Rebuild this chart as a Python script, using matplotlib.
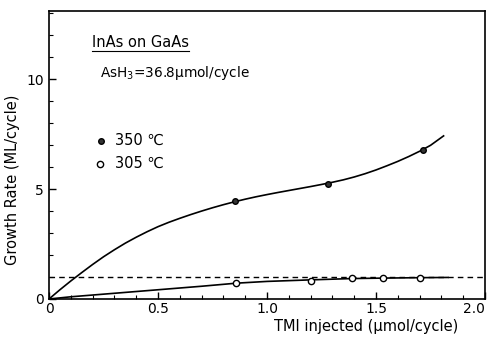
import matplotlib
matplotlib.use("Agg")
import matplotlib.pyplot as plt
from matplotlib.ticker import MultipleLocator, FixedLocator

# data points
x350 = [0.855, 1.28, 1.715]
y350 = [4.45, 5.23, 6.8]
x305 = [0.86, 1.20, 1.39, 1.53, 1.70]
y305 = [0.73, 0.82, 0.95, 0.95, 0.97]

# fitted curves
cx350 = [0, 0.05, 0.1, 0.15, 0.2, 0.25, 0.3, 0.35, 0.4, 0.45, 0.5, 0.55, 0.6, 0.65,
         0.7, 0.75, 0.8, 0.85, 0.9, 0.95, 1.0, 1.05, 1.1, 1.15, 1.2, 1.25, 1.3, 1.35,
         1.4, 1.45, 1.5, 1.55, 1.6, 1.65, 1.7, 1.75, 1.81]
cy350 = [0, 0.42, 0.82, 1.2, 1.57, 1.92, 2.24, 2.54, 2.81, 3.06, 3.29, 3.49, 3.67, 3.84,
         4.0, 4.15, 4.29, 4.42, 4.54, 4.65, 4.75, 4.845, 4.935, 5.025, 5.115, 5.21, 5.31, 5.42,
         5.55, 5.7, 5.87, 6.06, 6.26, 6.48, 6.72, 6.99, 7.42]
cx305 = [0, 0.1, 0.3, 0.5, 0.7, 0.86, 1.0, 1.2, 1.39, 1.53, 1.70, 1.83]
cy305 = [0, 0.1, 0.26, 0.42, 0.58, 0.72, 0.8, 0.87, 0.93, 0.95, 0.97, 0.98]

xticks = [0, 0.5, 1.0, 1.5, 2.0]
xticklabels = ["0", "0.5", "1.0", "1.5", "2.0"]
yticks = [0, 5, 10]

fig = plt.figure(figsize=(4.94, 3.38), dpi=100)
ax = fig.add_axes([0.0992, 0.1154, 0.8826, 0.852])
ax.set_xlim(0, 2.0)
ax.set_ylim(0, 13.1)

ax.plot(cx350, cy350, color="black", lw=1.2)
ax.plot(cx305, cy305, color="black", lw=1.2)
ax.axhline(1.0, color="black", lw=1.0, ls=(0, (4, 3)))
ax.plot(x350, y350, "o", ms=4, mfc="#333333", mec="black", mew=1)
ax.plot(x305, y305, "o", ms=4.5, mfc="white", mec="black", mew=1)

ax.xaxis.set_major_locator(FixedLocator(xticks))
ax.set_xticklabels(xticklabels)
ax.yaxis.set_major_locator(FixedLocator(yticks))
ax.xaxis.set_minor_locator(MultipleLocator(0.1))
ax.yaxis.set_minor_locator(MultipleLocator(1))
ax.tick_params(which="both", direction="in", labelsize=10)
ax.tick_params(which="major", length=5, width=1)
ax.tick_params(which="minor", length=3, width=0.8)
ax.tick_params(axis="x", pad=2)
ax.xaxis.get_major_ticks()[-1].label1.set_horizontalalignment("right")
for s in ax.spines.values():
    s.set_linewidth(1.2)

ax.set_xlabel("TMI injected (μmol/cycle)", fontsize=10.5)
ax.xaxis.set_label_coords(0.727, -0.068)
ax.set_ylabel("Growth Rate (ML/cycle)", fontsize=10.5)
ax.yaxis.set_label_coords(-0.066, 0.415)

ax.text(0.198, 11.68, "InAs on GaAs", fontsize=10.5, ha="left", va="center")
ax.plot([0.195, 0.64], [11.3, 11.3], color="black", lw=0.8)
ax.text(0.234, 10.3, "AsH$_3$=36.8μmol/cycle", fontsize=9.8, ha="left", va="center")

ax.plot([0.238], [7.2], "o", ms=4, mfc="#333333", mec="black", mew=1)
ax.plot([0.235], [6.16], "o", ms=4.5, mfc="white", mec="black", mew=1)
ax.text(0.305, 7.2, "350 ℃", fontsize=10.5, ha="left", va="center")
ax.text(0.305, 6.16, "305 ℃", fontsize=10.5, ha="left", va="center")

fig.savefig("out.png", dpi=100)
